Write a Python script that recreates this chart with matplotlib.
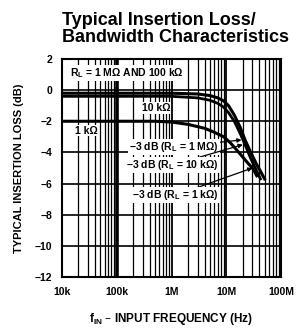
import numpy as np
import matplotlib.pyplot as plt
from matplotlib.ticker import FixedLocator, NullFormatter

plt.rcParams['font.family'] = ['Liberation Sans', 'DejaVu Sans']
plt.rcParams['mathtext.default'] = 'regular'

# curves (frequency in Hz, loss in dB)
f_1m = [1e4, 1e6, 3e6, 5e6, 7e6, 9e6, 11e6, 14e6, 18e6, 22e6, 28e6, 35e6, 42e6, 50e6]
db_1m = [-0.2, -0.2, -0.25, -0.35, -0.5, -0.7, -1.0, -1.6, -2.4, -3.2, -4.0, -4.7, -5.2, -5.7]

f_10k = [1e4, 1e6, 3e6, 5e6, 7e6, 9e6, 11e6, 14e6, 18e6, 22e6, 28e6, 35e6, 42e6]
db_10k = [-0.4, -0.4, -0.5, -0.65, -0.85, -1.1, -1.45, -2.0, -2.8, -3.5, -4.4, -5.1, -5.7]

f_1k = [1e4, 5e5, 1e6, 2e6, 4e6, 6e6, 9e6, 12e6, 16e6, 20e6, 25e6, 30e6, 36e6]
db_1k = [-2.0, -2.0, -2.05, -2.2, -2.45, -2.7, -3.0, -3.4, -3.9, -4.3, -4.7, -5.0, -5.5]

# -3 dB points
f_3db = [19e6, 20e6, 30e6]
db_3db = [-3.2, -3.5, -5.0]
labels_3db = ['−3 dB (R$_L$ = 1 MΩ)', '−3 dB (R$_L$ = 10 kΩ)', '−3 dB (R$_L$ = 1 kΩ)']
label_y = [-3.65, -4.8, -6.75]

xticks = [1e4, 1e5, 1e6, 1e7, 1e8]
xticklabels = ['10k', '100k', '1M', '10M', '100M']
yticks = [2, 0, -2, -4, -6, -8, -10, -12]

fig = plt.figure(figsize=(2.96, 3.33), dpi=100)
ax = fig.add_axes([0.2095, 0.168, 0.740, 0.655])
ax.set_xscale('log')
ax.set_xlim(1e4, 1e8)
ax.set_ylim(-12, 2)

# grid
minor = []
for d in [1e4, 1e5, 1e6, 1e7]:
    for m in range(2, 10):
        minor.append(d * m)
for x in minor:
    ax.axvline(x, color='black', lw=0.9, zorder=1)
for x in xticks:
    ax.axvline(x, color='black', lw=1.3, zorder=1)
ax.axvline(1e5, color='black', lw=2.6, zorder=1)
for y in yticks:
    ax.axhline(y, color='black', lw=1.2, zorder=1)

ax.plot(f_1m, db_1m, color='black', lw=2.2, zorder=3)
ax.plot(f_10k, db_10k, color='black', lw=2.0, zorder=3)
ax.plot(f_1k, db_1k, color='black', lw=2.2, zorder=3)

box = dict(facecolor='white', edgecolor='none', pad=0.6)
ax.text(1.4e4, 1.1, 'R$_L$ = 1 MΩ AND 100 kΩ', fontsize=7.5, fontweight='bold',
        ha='left', va='center', bbox=box, zorder=4)
ax.text(2.9e5, -1.15, '10 kΩ', fontsize=7.5, fontweight='bold',
        ha='left', va='center', bbox=box, zorder=4)
ax.text(1.7e4, -2.6, '1 kΩ', fontsize=7.5, fontweight='bold',
        ha='left', va='center', bbox=box, zorder=4)
for fx, dy, lab, ly in zip(f_3db, db_3db, labels_3db, label_y):
    ax.annotate(lab, xy=(fx, dy), xytext=(7.3e6, ly), fontsize=7.5, fontweight='bold',
                ha='right', va='center', bbox=box, zorder=4,
                arrowprops=dict(arrowstyle='-|>', color='black', lw=0.9,
                                mutation_scale=6, shrinkA=0, shrinkB=0))

ax.xaxis.set_major_locator(FixedLocator(xticks))
ax.xaxis.set_minor_locator(FixedLocator(minor))
ax.xaxis.set_minor_formatter(NullFormatter())
ax.set_xticklabels(xticklabels, fontsize=7.5, fontweight='bold')
ax.set_yticks(yticks)
ax.set_yticklabels([str(v) if v >= 0 else '−' + str(-v) for v in yticks],
                   fontsize=7.5, fontweight='bold')
ax.tick_params(which='both', length=0, pad=7)
for s in ax.spines.values():
    s.set_linewidth(1.5)

ax.set_xlabel('f$_{IN}$ – INPUT FREQUENCY (Hz)', fontsize=8.5, fontweight='bold', labelpad=10)
ax.set_ylabel('TYPICAL INSERTION LOSS (dB)', fontsize=8, fontweight='bold', labelpad=8)

fig.text(0.21, 0.913, 'Typical Insertion Loss/\nBandwidth Characteristics',
         fontsize=13, fontweight='bold', ha='left', va='center', linespacing=1.05,
         multialignment='left')

fig.savefig('out.png', dpi=100)
